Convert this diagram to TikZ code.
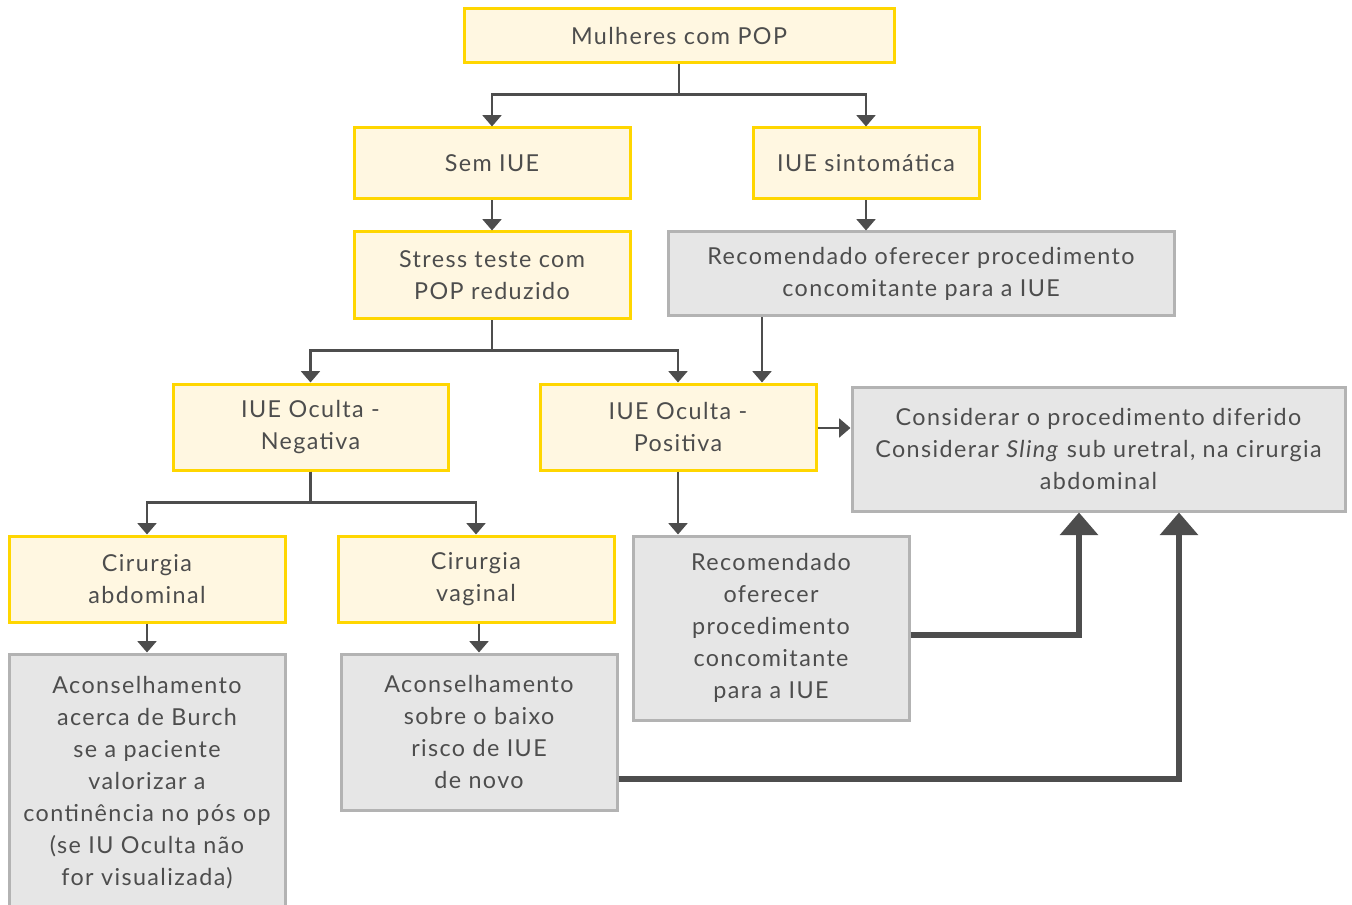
\documentclass[tikz,border=0pt]{standalone}
\usepackage{fontspec}
\setmainfont[LetterSpace=6]{Lato}
\usetikzlibrary{arrows.meta}
\definecolor{ink}{HTML}{4D4D4D}
\definecolor{yfill}{HTML}{FFF7E1}
\definecolor{yline}{HTML}{FFD600}
\definecolor{gfill}{HTML}{E6E6E6}
\definecolor{gline}{HTML}{B3B3B3}
\tikzset{
  boxbase/.style={rectangle, inner sep=0pt, align=center, text=ink, line width=2.25pt,
    font=\fontsize{17.5}{24}\selectfont},
  ybox/.style={boxbase, draw=yline, fill=yfill},
  gbox/.style={boxbase, draw=gline, fill=gfill},
  arr/.style={draw=ink, line width=2.2pt, -{Triangle[width=14pt,length=8.5pt]}},
  bigarr/.style={draw=ink, line width=5.2pt, -{Triangle[width=28pt,length=17pt]}},
}
% box from corner (x1,y1) to corner (x2,y2), in pixel units
\newcommand\bx[7]{\node[#2, minimum width={(#5-#3)*0.75pt}, minimum height={(#6-#4)*0.75pt}]
  (#1) at ({(#3+#5)/2},{(#4+#6)/2}) {#7};}
\begin{document}
\begin{tikzpicture}[x=0.75pt,y=-0.75pt]
\useasboundingbox (0,0) rectangle (1352,905);
\bx{top}{ybox}{464}{9}{894}{63}{Mulheres com POP}
\bx{sem}{ybox}{354}{128}{630}{199}{Sem IUE}
\bx{sint}{ybox}{753}{128}{979}{199}{IUE sintomática}
\bx{stress}{ybox}{354}{232}{630}{319}{Stress teste com\\POP reduzido}
\bx{rec}{gbox}{668}{232}{1174}{316}{Recomendado oferecer procedimento\\concomitante para a IUE}
\bx{neg}{ybox}{173}{384}{448}{470}{IUE Oculta -\\Negativa}
\bx{pos}{ybox}{540}{384}{816}{470}{IUE Oculta -\\Positiva}
\bx{cons}{gbox}{852}{387}{1345}{511}{Considerar o procedimento diferido\\Considerar \textit{Sling} sub uretral, na cirurgia\\abdominal}
\bx{abd}{ybox}{9}{536}{285}{622}{Cirurgia\\abdominal}
\bx{vag}{ybox}{338}{536}{614}{622}{Cirurgia\\vaginal}
\bx{rec2}{gbox}{633}{536}{909}{720}{Recomendado\\oferecer\\procedimento\\concomitante\\para a IUE}
\bx{burch}{gbox}{9}{654}{285}{912}{Aconselhamento\\acerca de Burch\\se a paciente\\valorizar a\\continência no pós op\\(se IU Oculta não\\for visualizada)}
\bx{sobre}{gbox}{341}{654}{617}{810}{Aconselhamento\\sobre o baixo\\risco de IUE\\de novo}

\coordinate (xrec) at (762,0);
\coordinate (xa) at (1079,0);
\coordinate (xb) at (1179,0);
\coordinate (ya) at (0,635);
\coordinate (yb) at (0,779);
\coordinate (yc) at (0,428);

\draw[arr] (top.south) -- ++(0,30) -| (sem.north);
\draw[arr] (top.south) -- ++(0,30) -| (sint.north);
\draw[arr] (sem.south) -- (stress.north);
\draw[arr] (sint.south) -- (sint.south |- rec.north);
\draw[arr] (stress.south) -- ++(0,30) -| (neg.north);
\draw[arr] (stress.south) -- ++(0,30) -| (pos.north);
\draw[arr] (rec.south -| xrec) -- (pos.north -| xrec);
\draw[arr] (pos.east |- yc) -- (cons.west |- yc);
\draw[arr] (neg.south) -- ++(0,31) -| (abd.north);
\draw[arr] (neg.south) -- ++(0,31) -| (vag.north);
\draw[arr] (pos.south) -- (pos.south |- rec2.north);
\draw[arr] (abd.south) -- (burch.north);
\draw[arr] (vag.south -| sobre.north) -- (sobre.north);
\draw[bigarr] (rec2.east |- ya) -| (cons.south -| xa);
\draw[bigarr] (sobre.east |- yb) -| (cons.south -| xb);
\end{tikzpicture}
\end{document}
